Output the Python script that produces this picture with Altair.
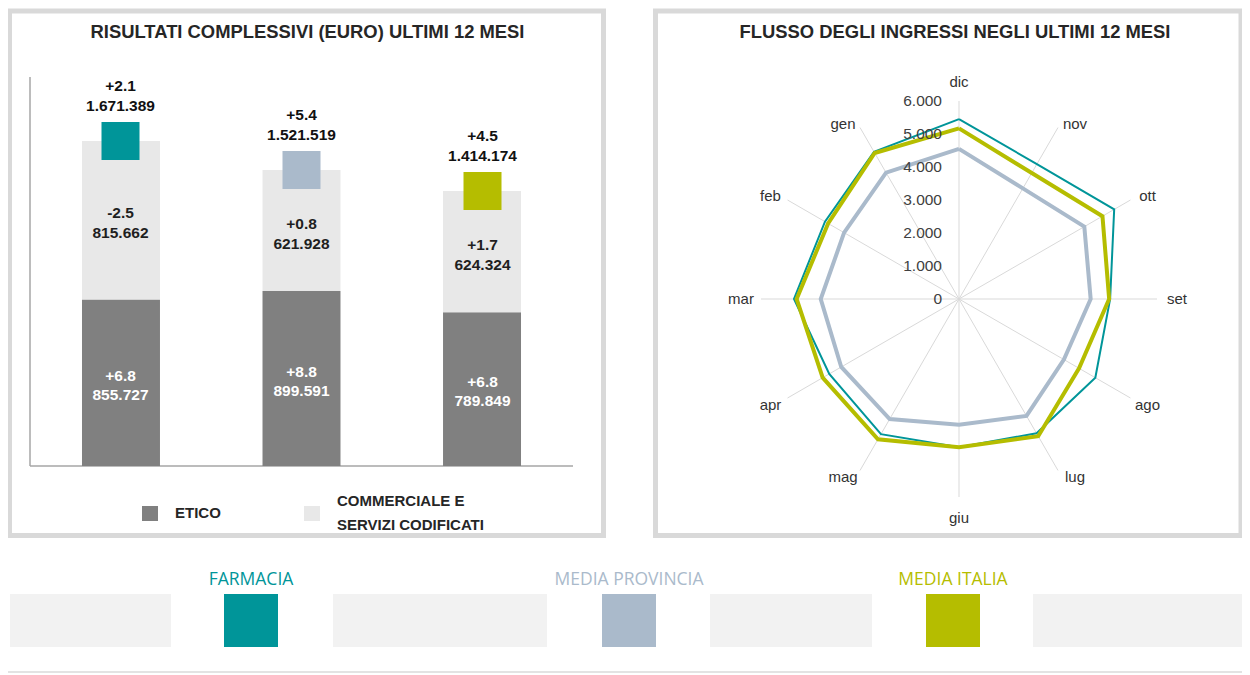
import altair as alt
import pandas as pd
import numpy as np

# ---------------- data ----------------
categories = ["FARMACIA", "MEDIA PROVINCIA", "MEDIA ITALIA"]
etico = [855727, 899591, 789849]
commerciale = [815662, 621928, 624324]
totale = [1671389, 1521519, 1414174]
var_etico = ["+6.8", "+8.8", "+6.8"]
var_comm = ["-2.5", "+0.8", "+1.7"]
var_tot = ["+2.1", "+5.4", "+4.5"]
segments = ["ETICO", "COMMERCIALE E SERVIZI CODIFICATI"]

months = ["dic", "nov", "ott", "set", "ago", "lug", "giu", "mag", "apr", "mar", "feb", "gen"]
farmacia = [5450, 4720, 5430, 4580, 4770, 4700, 4490, 4730, 4540, 5000, 4690, 5150]
provincia = [4550, 3870, 4385, 3990, 3670, 4090, 3810, 4200, 4120, 4190, 4020, 4420]
italia = [5170, 4410, 5020, 4550, 4200, 4800, 4490, 4910, 4770, 4920, 4580, 5110]
radial_ticks = [0, 1000, 2000, 3000, 4000, 5000, 6000]

# ---------------- styles ----------------
series_colors = ["#009599", "#aabacb", "#b5bd00"]
seg_colors = ["#808080", "#e8e8e8"]
FONT = "Liberation Sans, Arial"
FONT_L = "Open Sans"
W, H = 1234, 666


def fmt(v):
    return f"{v:,}".replace(",", ".")


# ---------------- tables ----------------
bars = []
for c, e, m, ve, vc in zip(categories, etico, commerciale, var_etico, var_comm):
    bars.append({"cat": c, "seg": segments[0], "start": 0, "end": e,
                 "mid": e / 2, "lbl": f"{ve}\n{fmt(e)}"})
    bars.append({"cat": c, "seg": segments[1], "start": e, "end": e + m,
                 "mid": e + m / 2, "lbl": f"{vc}\n{fmt(m)}"})
bars = pd.DataFrame(bars)
tots = pd.DataFrame({"cat": categories, "total": totale,
                     "lbl": [f"{v}\n{fmt(t)}" for v, t in zip(var_tot, totale)]})

ang = np.deg2rad(np.arange(12) * 30.0)
series = {"FARMACIA": farmacia, "MEDIA PROVINCIA": provincia, "MEDIA ITALIA": italia}
radar_frames = {}
for name, vals in series.items():
    v = np.array(vals + vals[:1], dtype=float)
    a = np.concatenate([ang, ang[:1]])
    radar_frames[name] = pd.DataFrame({"idx": np.arange(13), "x": v * np.sin(a),
                                       "y": v * np.cos(a), "series": name})
RMAX = max(radial_ticks)
spokes = pd.DataFrame({"m": months, "x0": 0.0, "y0": 0.0,
                       "x1": RMAX * np.sin(ang), "y1": RMAX * np.cos(ang)})

# month labels: placed just beyond the spoke end (pixel offsets converted to data units)
UPX = 6000 / 198.0
s, c = np.round(np.sin(ang), 6), np.round(np.cos(ang), 6)
off_x = np.where(np.abs(s) > 0.99, 20.0, 17.0) * np.sign(s)
off_y = np.where(c > 0.99, 19.0,
                 np.where(c < -0.99, -21.0,
                          np.where(np.abs(c) < 0.01, 0.0, np.where(c > 0, 4.0, -7.0))))
mlabels = pd.DataFrame({"m": months, "x": RMAX * s + off_x * UPX, "y": RMAX * c + off_y * UPX})
tick_df = pd.DataFrame({"v": radial_ticks, "zero": 0.0,
                        "t": [fmt(v) for v in radial_ticks]})

# ---------------- scales ----------------
xb = alt.Scale(domain=categories, range=[22, 565], paddingInner=0.568, paddingOuter=0.288)
yb = alt.Scale(domain=[0, 2000000], range=[458, 69], nice=False)
xr = alt.Scale(domain=[-6000, 6000], range=[753, 1149], nice=False)
yr = alt.Scale(domain=[-6000, 6000], range=[489, 93], nice=False)
cat_color = alt.Scale(domain=categories, range=series_colors)

# ---------------- decorations (layout) ----------------
dummy = pd.DataFrame({"a": [0]})


def rect(df, **kw):
    return alt.Chart(df).mark_rect(**kw).encode(
        x=alt.X("x0:Q", scale=None), x2="x1:Q",
        y=alt.Y("y0:Q", scale=None), y2="y1:Q")


frames = rect(pd.DataFrame({"x0": [1.5, 647.5], "x1": [595.5, 1233.0],
                            "y0": [3.0, 3.0], "y1": [527.5, 527.5]}),
              fillOpacity=0, stroke="#d9d9d9", strokeWidth=5)
strip_boxes = rect(pd.DataFrame({"x0": [2, 325, 702, 1025], "x1": [163, 539, 864, 1234],
                                 "y0": [586] * 4, "y1": [639] * 4}), color="#f2f2f2")
strip_keys = alt.Chart(pd.DataFrame({"cat": categories, "x0": [216, 594, 918],
                                     "x1": [270, 648, 972], "y0": [586] * 3,
                                     "y1": [639] * 3})).mark_rect().encode(
    x=alt.X("x0:Q", scale=None), x2="x1:Q", y=alt.Y("y0:Q", scale=None), y2="y1:Q",
    color=alt.Color("cat:N", scale=cat_color, legend=None))
strip_text = alt.Chart(pd.DataFrame({"cat": categories, "x": [243, 621, 945],
                                     "y": [572] * 3})).mark_text(
    font=FONT_L, fontSize=17.5, baseline="middle", align="center").encode(
    x=alt.X("x:Q", scale=None), y=alt.Y("y:Q", scale=None), text="cat:N",
    color=alt.Color("cat:N", scale=cat_color, legend=None))
bottom_line = alt.Chart(dummy).mark_rule(color="#e3e3e3", strokeWidth=2).encode(
    x=alt.value(0), x2=alt.value(W), y=alt.value(664))

leg_keys = rect(pd.DataFrame({"x0": [134], "x1": [150], "y0": [498], "y1": [513]}), color=seg_colors[0]) + \
    rect(pd.DataFrame({"x0": [296], "x1": [312], "y0": [498], "y1": [513]}), color=seg_colors[1])
leg_text = alt.Chart(pd.DataFrame({"x": [167, 329, 329], "y": [505, 493, 517],
                                   "t": ["ETICO", "COMMERCIALE E", "SERVIZI CODIFICATI"]})).mark_text(
    font=FONT, fontSize=15, fontWeight="bold", align="left", baseline="middle",
    color="#262626").encode(x=alt.X("x:Q", scale=None), y=alt.Y("y:Q", scale=None), text="t:N")

titles = alt.Chart(pd.DataFrame({"x": [299.5, 947], "y": [24, 24],
                                 "t": ["RISULTATI COMPLESSIVI (EURO) ULTIMI 12 MESI",
                                       "FLUSSO DEGLI INGRESSI NEGLI ULTIMI 12 MESI"]})).mark_text(
    font=FONT, fontSize=18.4, fontWeight="bold", align="center", baseline="middle",
    color="#262626").encode(x=alt.X("x:Q", scale=None), y=alt.Y("y:Q", scale=None), text="t:N")

axis_lines = alt.Chart(dummy).mark_rule(color="#a6a6a6", strokeWidth=1.5).encode(
    x=alt.value(22), y=alt.value(69), y2=alt.value(458)) + \
    alt.Chart(dummy).mark_rule(color="#a6a6a6", strokeWidth=1.5).encode(
    x=alt.value(22), x2=alt.value(565), y=alt.value(458))

# ---------------- bar chart ----------------
bar_marks = alt.Chart(bars).mark_bar().encode(
    x=alt.X("cat:N", scale=xb, axis=None),
    y=alt.Y("start:Q", scale=yb, axis=None), y2="end:Q",
    color=alt.Color("seg:N", scale=alt.Scale(domain=segments, range=seg_colors), legend=None))
squares = alt.Chart(tots).mark_square(size=1444, opacity=1).encode(
    x=alt.X("cat:N", scale=xb, axis=None), y=alt.Y("total:Q", scale=yb, axis=None),
    color=alt.Color("cat:N", scale=cat_color, legend=None))
lbl_etico = alt.Chart(bars[bars.seg == segments[0]]).mark_text(
    font=FONT, fontSize=15.5, fontWeight="bold", color="white", lineBreak="\n",
    lineHeight=19, baseline="middle", dy=-7).encode(
    x=alt.X("cat:N", scale=xb, axis=None), y=alt.Y("mid:Q", scale=yb, axis=None), text="lbl:N")
lbl_comm = alt.Chart(bars[bars.seg == segments[1]]).mark_text(
    font=FONT, fontSize=15.5, fontWeight="bold", color="#1f1f1f", lineBreak="\n",
    lineHeight=20, baseline="middle", dy=-7).encode(
    x=alt.X("cat:N", scale=xb, axis=None), y=alt.Y("mid:Q", scale=yb, axis=None), text="lbl:N")
lbl_tot = alt.Chart(tots).mark_text(
    font=FONT, fontSize=15.5, fontWeight="bold", color="#111111", lineBreak="\n",
    lineHeight=20, baseline="middle", dy=-55).encode(
    x=alt.X("cat:N", scale=xb, axis=None), y=alt.Y("total:Q", scale=yb, axis=None), text="lbl:N")

# ---------------- radar ----------------
spoke_marks = alt.Chart(spokes).mark_rule(color="#d9d9d9", strokeWidth=1).encode(
    x=alt.X("x0:Q", scale=xr, axis=None), y=alt.Y("y0:Q", scale=yr, axis=None),
    x2="x1:Q", y2="y1:Q")
widths = {"FARMACIA": 2, "MEDIA PROVINCIA": 4, "MEDIA ITALIA": 4}
radar_lines = []
for name in ["MEDIA PROVINCIA", "FARMACIA", "MEDIA ITALIA"]:
    radar_lines.append(alt.Chart(radar_frames[name]).mark_line(
        strokeWidth=widths[name], strokeJoin="miter").encode(
        x=alt.X("x:Q", scale=xr, axis=None), y=alt.Y("y:Q", scale=yr, axis=None),
        order="idx:Q", color=alt.Color("series:N", scale=cat_color, legend=None)))
month_text = alt.Chart(mlabels).mark_text(
    font=FONT, fontSize=15, color="#333333", baseline="middle", align="center").encode(
    x=alt.X("x:Q", scale=xr, axis=None), y=alt.Y("y:Q", scale=yr, axis=None), text="m:N")
tick_text = alt.Chart(tick_df).mark_text(
    font=FONT, fontSize=15.5, color="#404040", baseline="middle", align="right", dx=-17).encode(
    x=alt.X("zero:Q", scale=xr, axis=None), y=alt.Y("v:Q", scale=yr, axis=None), text="t:N")

layers = [frames, strip_boxes, strip_keys, strip_text, bottom_line, leg_keys, leg_text,
          titles, axis_lines, bar_marks, squares, lbl_etico, lbl_comm, lbl_tot,
          spoke_marks] + radar_lines + [month_text, tick_text]

chart = alt.layer(*layers).resolve_scale(
    x="independent", y="independent", color="independent"
).properties(
    width=W, height=H, padding=0, autosize=alt.AutoSizeParams(type="none")
).configure_view(stroke=None)

chart.save("out.html", embed_options={"renderer": "svg", "actions": False})
